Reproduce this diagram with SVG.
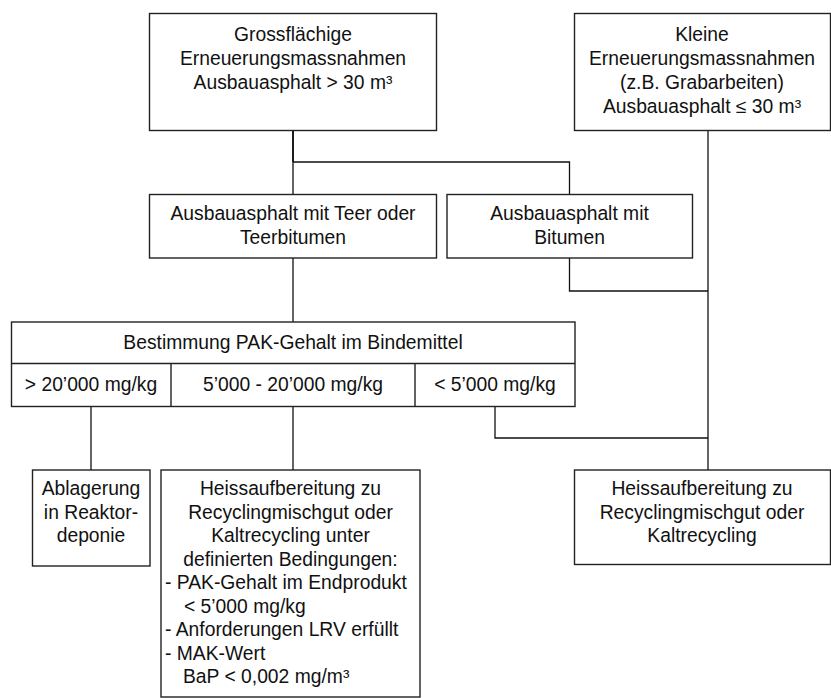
<svg xmlns="http://www.w3.org/2000/svg" width="831" height="698" viewBox="0 0 831 698">
  <style>
    .box { fill: #ffffff; stroke: #222222; stroke-width: 1.4; }
    .wire { fill: none; stroke: #111111; stroke-width: 1.3; }
    .trunk { stroke-width: 1.9; }
    text { font-family: "Liberation Sans", Arial, sans-serif; font-size: 19.3px; fill: #111111; }
    .c { text-anchor: middle; }
  </style>
  <rect width="831" height="698" fill="#ffffff"/>

  <!-- connectors -->
  <g id="connectors">
    <path class="wire trunk" d="M293,130 V162"/>
    <path class="wire" d="M293,162 V194"/>
    <path class="wire" d="M293,162 H569.5 V194"/>
    <path class="wire" d="M293,258 V322"/>
    <path class="wire" d="M569.5,258 V291 H708"/>
    <path class="wire" d="M708,130 V470"/>
    <path class="wire" d="M91,406 V470"/>
    <path class="wire" d="M293,406 V470"/>
    <path class="wire" d="M495,406 V438 H708"/>
  </g>

  <!-- large-scale renewal -->
  <g id="gross">
    <rect class="box" x="149.5" y="13.5" width="287" height="117"/>
    <text class="c" x="293" y="41">Grossflächige</text>
    <text class="c" x="293" y="65">Erneuerungsmassnahmen</text>
    <text class="c" x="293" y="89">Ausbauasphalt &gt; 30 m³</text>
  </g>

  <!-- small renewal -->
  <g id="klein">
    <rect class="box" x="574.5" y="13.5" width="256" height="117"/>
    <text class="c" x="702" y="41">Kleine</text>
    <text class="c" x="702" y="65">Erneuerungsmassnahmen</text>
    <text class="c" x="702" y="89">(z.B. Grabarbeiten)</text>
    <text class="c" x="702" y="113">Ausbauasphalt ≤ 30 m³</text>
  </g>

  <!-- tar-containing asphalt -->
  <g id="teer">
    <rect class="box" x="149.5" y="194.5" width="287" height="63.5"/>
    <text class="c" x="293" y="220">Ausbauasphalt mit Teer oder</text>
    <text class="c" x="293" y="243.5">Teerbitumen</text>
  </g>

  <!-- bitumen asphalt -->
  <g id="bitumen">
    <rect class="box" x="447" y="194.5" width="245.5" height="63.5"/>
    <text class="c" x="569.5" y="220">Ausbauasphalt mit</text>
    <text class="c" x="569.5" y="243.5">Bitumen</text>
  </g>

  <!-- PAH content table -->
  <g id="pak">
    <rect class="box" x="11.5" y="322" width="563.5" height="84.5"/>
    <path class="box" d="M11.5,363.5 H575 M171,363.5 V406.5 M415,363.5 V406.5"/>
    <text class="c" x="293" y="348.5">Bestimmung PAK-Gehalt im Bindemittel</text>
    <text class="c" x="91" y="391">&gt; 20’000 mg/kg</text>
    <text class="c" x="293" y="391">5’000 - 20’000 mg/kg</text>
    <text class="c" x="495" y="391">&lt; 5’000 mg/kg</text>
  </g>

  <!-- landfill -->
  <g id="ablagerung">
    <rect class="box" x="32.5" y="470" width="117.5" height="96"/>
    <text class="c" x="91" y="495">Ablagerung</text>
    <text class="c" x="91" y="518.5">in Reaktor-</text>
    <text class="c" x="91" y="542">deponie</text>
  </g>

  <!-- conditional recycling -->
  <g id="heiss-bedingt">
    <rect class="box" x="161" y="470" width="259" height="227"/>
    <text class="c" x="290.5" y="495">Heissaufbereitung zu</text>
    <text class="c" x="290.5" y="518.5">Recyclingmischgut oder</text>
    <text class="c" x="290.5" y="542">Kaltrecycling unter</text>
    <text class="c" x="290.5" y="565.5">definierten Bedingungen:</text>
    <text x="165" y="589">- PAK-Gehalt im Endprodukt</text>
    <text x="184" y="612.5">&lt; 5’000 mg/kg</text>
    <text x="165" y="636">- Anforderungen LRV erfüllt</text>
    <text x="165" y="659.5">- MAK-Wert</text>
    <text x="183" y="683">BaP &lt; 0,002 mg/m³</text>
  </g>

  <!-- unrestricted recycling -->
  <g id="heiss">
    <rect class="box" x="574.5" y="470" width="256" height="94.5"/>
    <text class="c" x="702" y="495">Heissaufbereitung zu</text>
    <text class="c" x="702" y="518.5">Recyclingmischgut oder</text>
    <text class="c" x="702" y="542">Kaltrecycling</text>
  </g>
</svg>
